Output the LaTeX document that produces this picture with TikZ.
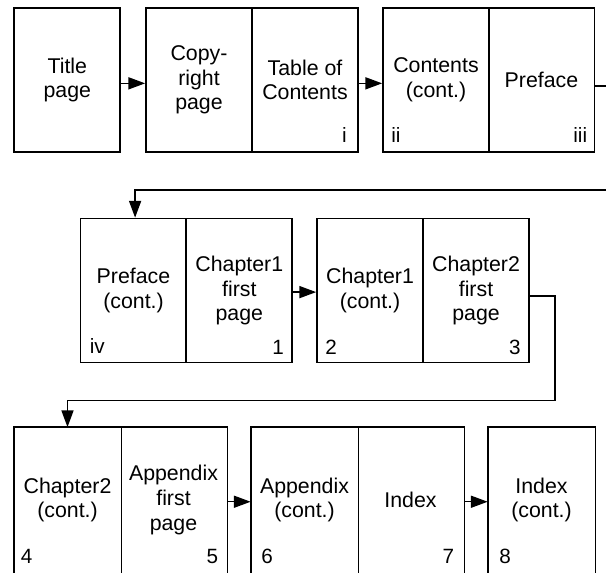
\documentclass[tikz,border=0pt]{standalone}
\usepackage{fontspec}
\setmainfont{Liberation Sans}
\usetikzlibrary{arrows.meta,calc}
\tikzset{
  pg/.style={rectangle, draw, line width=1.3pt, minimum width=79.5pt, minimum height=108pt, inner sep=0pt, align=center, font={\fontsize{16}{18.5}\selectfont}},
  pgopen/.style={pg, draw=none},
  pagenum/.style={inner sep=0pt, font={\fontsize{15.5}{17}\selectfont}},
  conn/.style={line width=1pt},
  arr/.style={conn, -{Triangle[length=12.5pt,width=9pt]}},
  frame/.style={line width=1.3pt, line join=miter},
}
\begin{document}
\begin{tikzpicture}[x=0.75pt,y=-0.75pt]
\useasboundingbox (0,0) rectangle (606,572);
\clip (0,0) rectangle (606,572);
% row 1
\node[pg] (title) at (67.3,80) {Title\\page};
\node[pg] (copy) at (199,80) {Copy-\\right\\page};
\node[pg] (toc) at (305,80) {Table of\\Contents};
\node[pg] (cont) at (436,80) {Contents\\(cont.)};
\node[pg] (pref) at (541.5,80) {Preface};
% row 2
\node[pg] (prefc) at (133.5,290.5) {Preface\\(cont.)};
\node[pg] (ch1) at (239.3,290.5) {Chapter1\\first\\page};
\node[pg] (ch1c) at (370,290.5) {Chapter1\\(cont.)};
\node[pg] (ch2) at (476,290.5) {Chapter2\\first\\page};
% row 3
\node[pgopen] (ch2c) at (67.5,500) {Chapter2\\(cont.)};
\node[pgopen] (app) at (173.5,500) {Appendix\\first\\page};
\node[pgopen] (appc) at (304.5,500) {Appendix\\(cont.)};
\node[pgopen] (idx) at (410.5,500) {Index};
\node[pgopen] (idxc) at (541.5,500) {Index\\(cont.)};
\draw[frame] (ch2c.south west) -- (ch2c.north west) -- (app.north east) -- (app.south east);
\draw[frame] (ch2c.north east) -- (ch2c.south east);
\draw[frame] (appc.south west) -- (appc.north west) -- (idx.north east) -- (idx.south east);
\draw[frame] (appc.north east) -- (appc.south east);
\draw[frame] (idxc.south west) -- (idxc.north west) -- (idxc.north east) -- (idxc.south east);
% page numbers
\node[pagenum, anchor=base east] (ntoc) at ($(toc.south east)+(-12,-10)$) {i};
\node[pagenum, anchor=base west] (ncont) at ($(cont.south west)+(9,-10)$) {ii};
\node[pagenum, anchor=base east] (npref) at ($(pref.south east)+(-8,-10)$) {iii};
\node[pagenum, anchor=base west] (nprefc) at ($(prefc.south west)+(10,-9.5)$) {iv};
\node[pagenum, anchor=base east] (nch1) at ($(ch1.south east)+(-9,-9)$) {1};
\node[pagenum, anchor=base west] (nch1c) at ($(ch1c.south west)+(9,-9)$) {2};
\node[pagenum, anchor=base east] (nch2) at ($(ch2.south east)+(-9,-9)$) {3};
\node[pagenum, anchor=base west] (nch2c) at ($(ch2c.south west)+(7,-9)$) {4};
\node[pagenum, anchor=base east] (napp) at ($(app.south east)+(-9,-9)$) {5};
\node[pagenum, anchor=base west] (nappc) at ($(appc.south west)+(10.5,-9)$) {6};
\node[pagenum, anchor=base east] (nidx) at ($(idx.south east)+(-10,-9)$) {7};
\node[pagenum, anchor=base west] (nidxc) at ($(idxc.south west)+(11.5,-9)$) {8};
% connectors
\draw[arr] ([yshift=-2.5pt]title.east) -- ([yshift=-2.5pt]copy.west);
\draw[arr] ([yshift=-2.5pt]toc.east) -- ([yshift=-2.5pt]cont.west);
\coordinate (edge1) at (606,86);
\draw[conn] (pref.east |- edge1) -- (edge1);
\coordinate (edge2) at (606,190);
\draw[arr] (edge2) -| ([xshift=1.2pt]prefc.north);
\draw[arr] ([yshift=-1.2pt]ch1.east) -- ([yshift=-1.2pt]ch1c.west);
\coordinate (turn2) at (555,400.7);
\draw[arr] ([yshift=-4pt]ch2.east) -| (turn2) -| (ch2c.north);
\draw[arr] ([yshift=-1.3pt]app.east) -- ([yshift=-1.3pt]appc.west);
\draw[arr] ([yshift=-1.3pt]idx.east) -- ([yshift=-1.3pt]idxc.west);
\end{tikzpicture}
\end{document}
